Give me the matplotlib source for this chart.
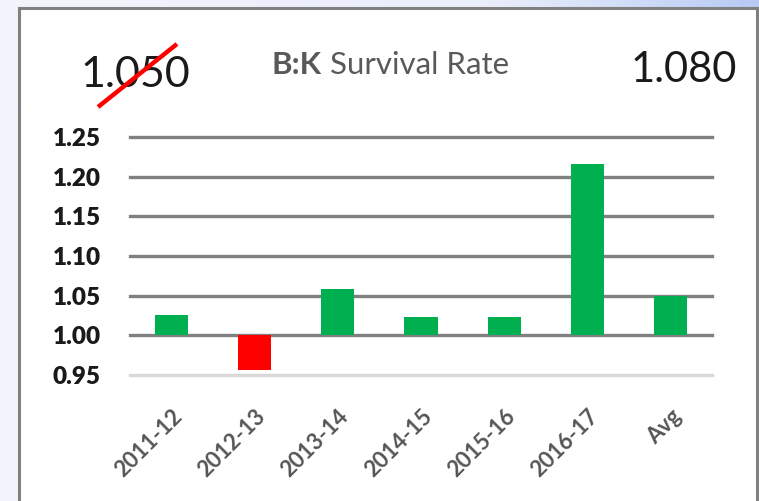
import matplotlib
matplotlib.use('Agg')
import matplotlib.pyplot as plt
import numpy as np
from matplotlib.patches import Rectangle
from matplotlib.colors import LinearSegmentedColormap

# ---- data ----
categories = ['2011-12', '2012-13', '2013-14', '2014-15', '2015-16', '2016-17', 'Avg']
values = [1.026, 0.956, 1.058, 1.023, 1.023, 1.216, 1.050]
yticks = [0.95, 1.00, 1.05, 1.10, 1.15, 1.20, 1.25]
baseline = 1.00
old_value = '1.050'
new_value = '1.080'
title_bold = 'B:K'
title_rest = ' Survival Rate'

plt.rcParams['font.family'] = ['Lato', 'DejaVu Sans']

W, H = 759, 501
fig = plt.figure(figsize=(W / 100, H / 100), dpi=100)

def fx(px):
    return px / W

def fy(py):
    return 1 - py / H

# background + panel in pixel coordinates
bg = fig.add_axes([0, 0, 1, 1], zorder=-10)
bg.set_xlim(0, W)
bg.set_ylim(H, 0)
bg.axis('off')
cmap = LinearSegmentedColormap.from_list('bg', ['#f2f4fc', '#e9eefb', '#b7caf4'])
grad = np.linspace(0, 1, 256) ** 1.6
bg.imshow(grad[None, :], aspect='auto', cmap=cmap, extent=[0, W, H, 0], zorder=0)
bg.add_patch(Rectangle((19, 7.5), 757 - 19, 530, facecolor='white',
                       edgecolor='#808080', linewidth=2.2, zorder=1, clip_on=False))

# header texts
bg.text(135.5, 87, old_value, fontsize=31, color='#1a1a1a', ha='center', va='baseline', zorder=3)
bg.plot([98, 177], [107, 44], color='#ff0000', lw=3.2, solid_capstyle='butt', zorder=5)
bg.text(683.5, 82, new_value, fontsize=30, color='#1a1a1a', ha='center', va='baseline', zorder=3)

t1 = bg.text(272, 74, title_bold, fontsize=22.5, fontweight='bold', color='#595959',
             ha='left', va='baseline', zorder=3)
fig.canvas.draw()
r = fig.canvas.get_renderer()
ext = t1.get_window_extent(renderer=r)
x_end_px = ext.x1  # display pixels == image pixels at dpi 100
bg.text(x_end_px, 74, title_rest, fontsize=22.5, color='#595959',
        ha='left', va='baseline', zorder=3)

# main chart
ax = fig.add_axes([fx(130), fy(375), fx(712) - fx(130), fy(137) - fy(375)])
ax.patch.set_alpha(0)
ax.set_xlim(-0.5, len(categories) - 0.5)
ax.set_ylim(yticks[0], yticks[-1])
for s in ax.spines.values():
    s.set_visible(False)

for t in yticks:
    ax.axhline(t, color='#d9d9d9' if t == yticks[0] else '#808080', lw=2.4,
               zorder=1, clip_on=False)

x = np.arange(len(categories))
heights = [v - baseline for v in values]
colors = ['#00b050' if v >= baseline else '#ff0000' for v in values]
ax.bar(x, heights, bottom=baseline, width=0.40, color=colors, zorder=2)

ax.set_yticks(yticks)
ax.set_yticklabels([f'{t:.2f}' for t in yticks], fontsize=17.5, fontweight='heavy', color='#1a1a1a')
ax.set_xticks(x)
ax.set_xticklabels(categories, rotation=45, ha='right', rotation_mode='anchor',
                   fontsize=16, fontweight='bold', color='#555555')
ax.tick_params(axis='y', length=0, pad=21)
ax.tick_params(axis='x', length=0, pad=22)

fig.savefig('out.png', dpi=100)
